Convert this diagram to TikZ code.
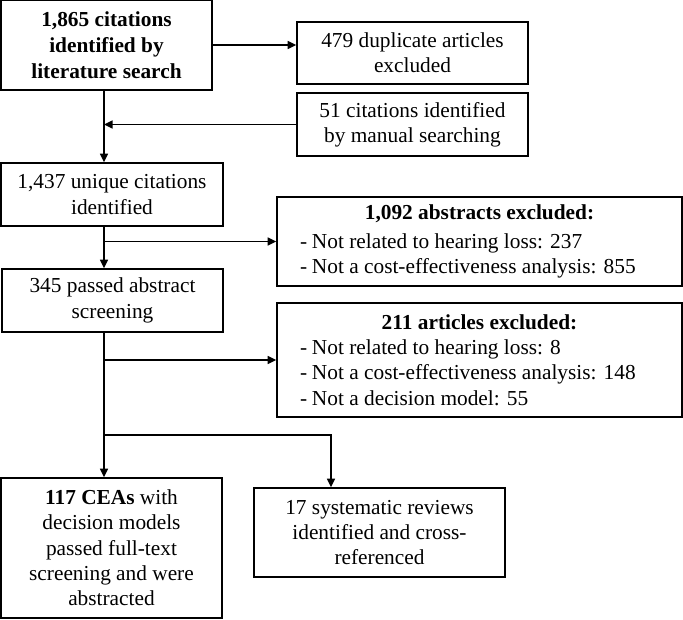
\documentclass[tikz,border=0pt]{standalone}
\usepackage{fontspec}
\setmainfont{Liberation Serif}
\usepackage{tikz}
\usetikzlibrary{arrows.meta,positioning}
\tikzset{
    %Define standard arrow tip
    >={Triangle[length=6.5pt,width=6pt]},
    %Define style for boxes
    record/.style={
           rectangle,
           draw=black, line width=1.1pt,
           font=\fontsize{16}{19}\selectfont,
           align=center,
           inner sep=2pt},
    recordbold/.style={
           record,
           font=\fontsize{16}{19.5}\selectfont\bfseries},
    % Define arrow style
    pil/.style={
           ->,
           line width=1.1pt}
}
\newcommand{\itemdash}{\makebox[9pt][l]{-}}

\begin{document}
\begin{tikzpicture}[x=0.75pt,y=-0.75pt]
\useasboundingbox (0,0) rectangle (683,619);

 %nodes
\node[recordbold, minimum width=158.25pt, minimum height=67.5pt] (search) at (106.5,45)
    {1,865 citations\\identified by\\literature search};
\node[record, minimum width=173.25pt, minimum height=46.5pt] (dupl) at (412.5,53)
    {479 duplicate articles\\excluded};
\node[record, minimum width=173.25pt, minimum height=47.25pt] (manual) at (412.5,124.5)
    {51 citations identified\\by manual searching};
\node[record, minimum width=166.5pt, minimum height=47.25pt] (unique) at (112,194.5)
    {1,437 unique citations\\identified};
\node[record, minimum width=303.75pt, minimum height=66.75pt] (absexcl) at (479.5,241.5)
    {\begin{minipage}{269.25pt}\centering\textbf{1,092 abstracts excluded:}\par\vspace{3pt}\raggedright
     \itemdash Not related to hearing loss: 237\\
     \itemdash Not a cost-effectiveness analysis: 855\end{minipage}};
\node[record, minimum width=165.75pt, minimum height=47.25pt] (passed) at (112.5,300.5)
    {345 passed abstract\\screening};
\node[record, minimum width=303.75pt, minimum height=85.5pt] (artexcl) at (479.5,360)
    {\begin{minipage}{269.25pt}\centering\textbf{211 articles excluded:}\par\raggedright
     \itemdash Not related to hearing loss: 8\\
     \itemdash Not a cost-effectiveness analysis: 148\\
     \itemdash Not a decision model: 55\end{minipage}};
\node[record, minimum width=165.75pt, minimum height=105pt] (cea) at (111.5,548)
    {\textbf{117 CEAs} with\\decision models\\passed full-text\\screening and were\\abstracted};
\node[record, minimum width=188.25pt, minimum height=66.75pt] (reviews) at (379.5,532.5)
    {17 systematic reviews\\identified and cross-\\referenced};

 %connectors
\coordinate (trunk) at (104,0);
\coordinate (split) at (104,435);
\coordinate (bend) at (331,435);

\draw[pil] (search.east) -- (search.east -| dupl.west);
\draw[pil] (search.south -| trunk) -- (unique.north -| trunk);
\draw[pil] (manual.west) -- (manual.west -| trunk);
\draw[pil] (unique.south -| trunk) -- (passed.north -| trunk);
\draw[pil] (absexcl.west -| trunk) -- (absexcl.west);
\draw[pil] (passed.south -| trunk) -- (cea.north -| trunk);
\draw[pil] (artexcl.west -| trunk) -- (artexcl.west);
\draw[pil] (split) -- (bend) -- (bend |- reviews.north);

\end{tikzpicture}
\end{document}
